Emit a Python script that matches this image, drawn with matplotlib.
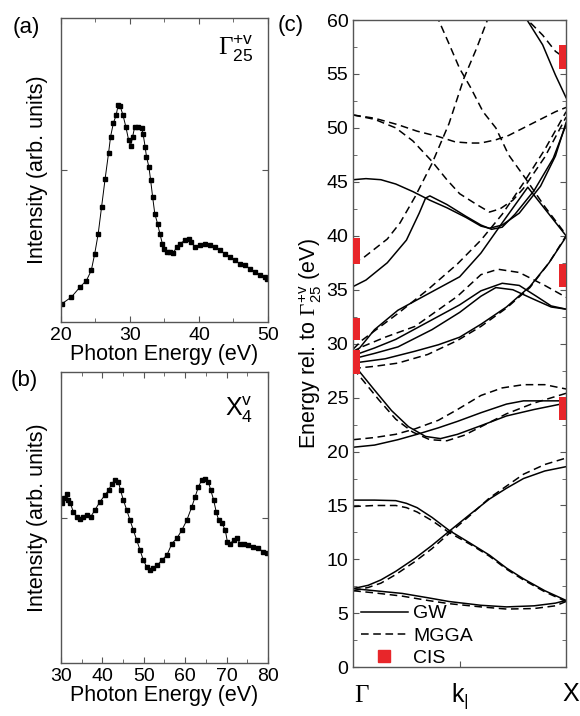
import matplotlib
matplotlib.use("Agg")
import matplotlib.pyplot as plt
from matplotlib.lines import Line2D
from matplotlib.ticker import MultipleLocator

plt.rcParams['font.family'] = ['Liberation Sans', 'DejaVu Sans']
plt.rcParams['mathtext.fontset'] = 'custom'
plt.rcParams['mathtext.rm'] = 'Liberation Serif'
plt.rcParams['mathtext.sf'] = 'Liberation Sans'
plt.rcParams['mathtext.it'] = 'Liberation Sans:italic'

# ---- (a) CIS spectrum at Gamma_25'
a_energy = [20.1, 21.5, 22.75, 23.7, 24.4, 24.9, 25.4, 25.9, 26.4, 26.9, 27.2, 27.6,
            28.0, 28.3, 28.6, 29.0, 29.4, 29.8, 30.1, 30.4, 30.7, 31.2, 31.7, 31.9,
            32.2, 32.4, 32.75, 33.0, 33.3, 33.6, 34.0, 34.35, 34.7, 34.9, 35.3, 35.8,
            36.3, 36.8, 37.2, 38.0, 38.5, 38.9, 39.4, 40.1, 40.9, 41.6, 42.3, 43.0,
            43.8, 44.5, 45.2, 45.9, 46.7, 47.4, 48.1, 48.8, 49.6, 49.8]
a_intensity = [0.060, 0.082, 0.115, 0.137, 0.170, 0.225, 0.290, 0.380, 0.470, 0.555, 0.610, 0.654,
               0.680, 0.714, 0.709, 0.680, 0.643, 0.600, 0.580, 0.610, 0.643, 0.643, 0.637, 0.620,
               0.577, 0.544, 0.510, 0.467, 0.410, 0.357, 0.324, 0.290, 0.258, 0.242, 0.231, 0.231,
               0.229, 0.247, 0.258, 0.269, 0.275, 0.264, 0.247, 0.253, 0.258, 0.253, 0.247, 0.236,
               0.225, 0.214, 0.203, 0.192, 0.187, 0.176, 0.165, 0.154, 0.148, 0.143]

# ---- (b) CIS spectrum at X_4
b_energy = [30.2, 30.7, 31.4, 31.8, 32.3, 33.0, 33.8, 34.6, 35.4, 36.4, 37.2, 38.2,
            39.4, 40.6, 41.5, 42.3, 43.1, 43.9, 44.4, 45.1, 45.9, 46.7, 47.5, 48.3,
            49.1, 49.9, 50.7, 51.5, 52.3, 53.3, 54.4, 55.6, 56.8, 58.0, 59.2, 60.4,
            61.6, 62.4, 63.2, 64.0, 64.8, 65.6, 66.2, 66.9, 67.5, 68.1, 68.9, 69.7,
            70.2, 70.9, 71.7, 72.5, 73.3, 74.1, 75.3, 76.5, 77.7, 78.9, 79.8]
b_intensity = [0.549, 0.566, 0.583, 0.560, 0.549, 0.520, 0.503, 0.497, 0.503, 0.509, 0.503, 0.526,
               0.554, 0.577, 0.594, 0.617, 0.629, 0.623, 0.594, 0.560, 0.526, 0.491, 0.457, 0.423,
               0.389, 0.354, 0.331, 0.320, 0.326, 0.337, 0.354, 0.371, 0.411, 0.429, 0.457, 0.491,
               0.537, 0.571, 0.606, 0.629, 0.634, 0.623, 0.594, 0.560, 0.520, 0.491, 0.480, 0.457,
               0.417, 0.411, 0.423, 0.429, 0.411, 0.411, 0.406, 0.400, 0.394, 0.383, 0.377]

# ---- (c) band structure along Gamma-X (k in units of Gamma-X)
gw_bands = [
    ([0, 0.1, 0.23, 0.35, 0.45, 0.6, 0.72, 0.85, 0.95, 1.0],
     [7.3, 7.1, 6.85, 6.45, 6.1, 5.75, 5.6, 5.7, 5.95, 6.2]),
    ([0, 0.07, 0.13, 0.2, 0.29, 0.37, 0.45, 0.55, 0.64, 0.72, 0.8, 0.9, 1.0],
     [7.3, 7.6, 8.1, 8.9, 10.1, 11.3, 12.6, 14.2, 15.6, 16.6, 17.5, 18.2, 18.6]),
    ([0, 0.1, 0.2, 0.25, 0.3, 0.37, 0.45, 0.55, 0.64, 0.72, 0.8, 0.9, 1.0],
     [15.5, 15.5, 15.45, 15.2, 14.8, 13.9, 12.7, 11.5, 10.4, 9.2, 8.2, 7.1, 6.2]),
    ([0, 0.1, 0.21, 0.3, 0.4, 0.49, 0.6, 0.72, 0.8, 0.9, 1.0],
     [20.4, 20.6, 21.1, 21.6, 22.2, 22.8, 23.6, 24.4, 24.7, 24.7, 24.7]),
    ([0, 0.03, 0.1, 0.18, 0.26, 0.34, 0.41, 0.49, 0.6, 0.72, 0.85, 1.0],
     [28.2, 27.4, 25.7, 23.8, 22.3, 21.4, 21.2, 21.6, 22.4, 23.3, 23.9, 24.5]),
    ([0, 0.15, 0.29, 0.4, 0.5, 0.6, 0.72, 0.83, 0.92, 1.0],
     [28.2, 28.6, 29.3, 29.9, 30.6, 31.8, 33.4, 35.3, 37.5, 39.9]),
    ([0, 0.1, 0.21, 0.37, 0.5, 0.6, 0.67, 0.75, 0.85, 0.93, 1.0],
     [28.6, 29.1, 29.7, 31.3, 32.9, 34.4, 35.2, 35.0, 34.1, 33.4, 33.2]),
    ([0, 0.1, 0.2, 0.35, 0.5, 0.6, 0.7, 0.78, 0.86, 0.93, 1.0],
     [28.9, 29.6, 30.4, 32.0, 33.6, 34.9, 35.6, 35.4, 34.4, 33.5, 33.2]),
    ([0, 0.03, 0.1, 0.21, 0.35, 0.5, 0.6, 0.7, 0.82, 0.9, 1.0],
     [29.3, 29.6, 31.3, 33.1, 34.6, 36.2, 38.4, 41.2, 44.5, 42.5, 40.0]),
    ([0, 0.06, 0.16, 0.25, 0.31, 0.34, 0.36, 0.44, 0.53, 0.6, 0.65, 0.7, 0.76, 0.85, 0.94, 1.0],
     [35.3, 35.9, 37.5, 39.6, 42.1, 43.5, 43.7, 42.9, 41.8, 41.0, 40.6, 40.8, 42.0, 44.2, 47.2, 50.3]),
    ([0, 0.06, 0.13, 0.2, 0.28, 0.36, 0.44, 0.53, 0.6, 0.64, 0.7, 0.78, 0.88, 0.95, 1.0],
     [45.2, 45.3, 45.2, 44.8, 44.1, 43.3, 42.6, 41.7, 40.9, 40.7, 41.0, 42.1, 44.6, 47.4, 50.5]),
    ([0.8, 0.82, 0.89, 0.95, 1.0],
     [60.5, 59.9, 57.7, 54.9, 52.8]),
]

mgga_bands = [
    ([0, 0.1, 0.23, 0.35, 0.45, 0.6, 0.72, 0.85, 0.95, 1.0],
     [7.1, 6.9, 6.6, 6.2, 5.9, 5.6, 5.4, 5.45, 5.7, 6.1]),
    ([0, 0.07, 0.13, 0.2, 0.29, 0.37, 0.45, 0.55, 0.64, 0.72, 0.8, 0.9, 1.0],
     [7.1, 7.4, 7.8, 8.6, 9.8, 11.0, 12.4, 14.1, 15.7, 16.8, 17.9, 18.8, 19.4]),
    ([0, 0.1, 0.2, 0.25, 0.3, 0.37, 0.45, 0.55, 0.64, 0.72, 0.8, 0.9, 1.0],
     [14.9, 15.0, 15.0, 14.8, 14.4, 13.6, 12.5, 11.4, 10.3, 9.1, 8.1, 7.0, 6.1]),
    ([0, 0.1, 0.2, 0.29, 0.4, 0.49, 0.6, 0.7, 0.8, 0.9, 1.0],
     [21.1, 21.3, 21.6, 22.1, 22.9, 23.9, 25.2, 25.9, 26.2, 26.2, 25.8]),
    ([0, 0.05, 0.12, 0.2, 0.28, 0.36, 0.44, 0.52, 0.62, 0.72, 0.85, 1.0],
     [27.7, 26.5, 24.8, 23.0, 21.8, 21.1, 21.0, 21.5, 22.5, 23.5, 24.5, 25.4]),
    ([0, 0.1, 0.21, 0.35, 0.49, 0.6, 0.72, 0.83, 0.92, 1.0],
     [27.7, 27.9, 28.2, 29.0, 30.3, 31.6, 33.3, 35.2, 37.5, 40.0]),
    ([0, 0.04, 0.15, 0.29, 0.49, 0.6, 0.68, 0.78, 0.9, 1.0],
     [29.0, 29.7, 30.6, 31.6, 34.4, 36.4, 36.9, 36.6, 35.4, 34.3]),
    ([0, 0.04, 0.21, 0.35, 0.49, 0.6, 0.7, 0.8, 0.9, 1.0],
     [29.5, 30.3, 32.8, 35.0, 37.4, 39.6, 42.0, 44.9, 48.0, 51.5]),
    ([0, 0.05, 0.16, 0.22, 0.29, 0.37, 0.45, 0.52, 0.58, 0.64],
     [37.5, 38.0, 39.7, 41.2, 43.6, 46.7, 50.4, 54.6, 57.4, 60.5]),
    ([0.39, 0.45, 0.5, 0.55, 0.61, 0.67, 0.73, 0.81, 0.9, 1.0],
     [60.5, 57.8, 55.5, 53.8, 51.5, 50.0, 47.5, 45.3, 42.7, 40.1]),
    ([0, 0.1, 0.21, 0.3, 0.4, 0.48, 0.55, 0.6, 0.67, 0.73, 0.8, 0.88, 0.95, 1.0],
     [51.2, 50.9, 50.3, 49.7, 49.2, 48.7, 48.6, 48.6, 48.9, 49.3, 50.0, 50.8, 51.5, 51.9]),
    ([0, 0.1, 0.2, 0.28, 0.37, 0.44, 0.5, 0.58, 0.64, 0.69, 0.75, 0.8, 0.9, 1.0],
     [51.2, 50.8, 50.0, 48.8, 46.9, 45.2, 43.9, 42.9, 42.2, 42.5, 43.3, 44.4, 47.3, 51.0]),
    ([0.79, 0.84, 0.89, 0.95, 1.0],
     [60.5, 59.6, 58.6, 57.1, 56.4]),
]

# CIS peaks: (lower, upper) energy at Gamma and at X
cis_gamma = [(37.4, 39.8), (30.3, 32.4), (27.2, 29.4)]
cis_x = [(55.5, 57.7), (35.3, 37.4), (22.9, 25.1)]

frame = '#555555'
red = '#e8262a'
label_size = 15.5
tick_size = 14

fig = plt.figure(figsize=(5.8, 7.16), dpi=100)
ax_a = fig.add_axes([0.105, 0.550, 0.357, 0.425])
ax_b = fig.add_axes([0.105, 0.074, 0.357, 0.406])
ax_c = fig.add_axes([0.609, 0.068, 0.367, 0.904])


def style_frame(ax):
    for s in ax.spines.values():
        s.set_color(frame)
        s.set_linewidth(1.0)
    ax.tick_params(which='both', direction='in', colors=frame, labelcolor='black',
                   labelsize=tick_size)
    ax.tick_params(which='major', length=4)
    ax.tick_params(which='minor', length=3)


for ax, xs, ys, lo, hi in [(ax_a, a_energy, a_intensity, 20, 50),
                           (ax_b, b_energy, b_intensity, 30, 80)]:
    ax.plot(xs, ys, '-', color='black', lw=0.7, marker='s', ms=2.8)
    ax.set_xlim(lo, hi)
    ax.set_ylim(0, 1)
    ax.set_yticks([0.5])
    ax.set_yticklabels([])
    ax.xaxis.set_minor_locator(MultipleLocator(5))
    style_frame(ax)
    ax.tick_params(top=True, right=True, which='both')
    ax.set_xlabel('Photon Energy (eV)', fontsize=label_size, labelpad=0)
    ax.set_ylabel('Intensity (arb. units)', fontsize=label_size, labelpad=6)

ax_a.set_xticks([20, 30, 40, 50])
ax_b.set_xticks([30, 40, 50, 60, 70, 80])

ax_a.text(0.93, 0.90, r'$\mathrm{\Gamma}^{\mathsf{+v}}_{\mathsf{25}}$', transform=ax_a.transAxes,
          fontsize=18, ha='right', va='center')
ax_b.text(0.93, 0.87, r'$\mathsf{X}^{\mathsf{v}}_{\mathsf{4}}$', transform=ax_b.transAxes,
          fontsize=18, ha='right', va='center')

fig.text(0.046, 0.962, '(a)', fontsize=16, ha='center', va='center')
fig.text(0.041, 0.468, '(b)', fontsize=16, ha='center', va='center')
fig.text(0.502, 0.965, '(c)', fontsize=16, ha='center', va='center')

# band structure
for k, e in gw_bands:
    ax_c.plot(k, e, '-', color='black', lw=1.1)
for k, e in mgga_bands:
    ax_c.plot(k, e, '--', color='black', lw=1.1, dashes=(5, 3))

for lo, hi in cis_gamma:
    ax_c.bar(0.0, hi - lo, bottom=lo, width=0.032, align='edge', color=red, zorder=3)
for lo, hi in cis_x:
    ax_c.bar(0.968, hi - lo, bottom=lo, width=0.032, align='edge', color=red, zorder=3)

ax_c.set_xlim(0, 1)
ax_c.set_ylim(0, 60)
ax_c.yaxis.set_major_locator(MultipleLocator(5))
ax_c.yaxis.set_minor_locator(MultipleLocator(2.5))
style_frame(ax_c)
ax_c.tick_params(axis='y', which='both', right=True)
ax_c.set_xticks([0.5])
ax_c.set_xticklabels([''])
ax_c.tick_params(axis='x', length=4)
ax_c.set_ylabel(r'Energy rel. to $\mathrm{\Gamma}^{\mathsf{+v}}_{\mathsf{25}}$ (eV)',
                fontsize=label_size, labelpad=2)

ax_c.text(0.038, -0.043, r'$\mathrm{\Gamma}$', transform=ax_c.transAxes,
          fontsize=18, ha='center', va='center')
ax_c.text(0.5, -0.045, r'$\mathsf{k}_{\mathsf{|}}$', transform=ax_c.transAxes,
          fontsize=18, ha='center', va='center')
ax_c.text(1.02, -0.041, 'X', transform=ax_c.transAxes,
          fontsize=18, ha='center', va='center')

handles = [Line2D([], [], color='black', lw=1.1, ls='-'),
           Line2D([], [], color='black', lw=1.1, ls='--', dashes=(5, 3)),
           Line2D([], [], color=red, ls='none', marker='s', ms=8)]
ax_c.legend(handles, ['GW', 'MGGA', 'CIS'], loc='lower left', frameon=False,
            fontsize=14, handlelength=2.4, handletextpad=0.3, labelspacing=0.25,
            borderaxespad=0.0, bbox_to_anchor=(0.0, -0.012))

fig.savefig('out.png', dpi=100)
